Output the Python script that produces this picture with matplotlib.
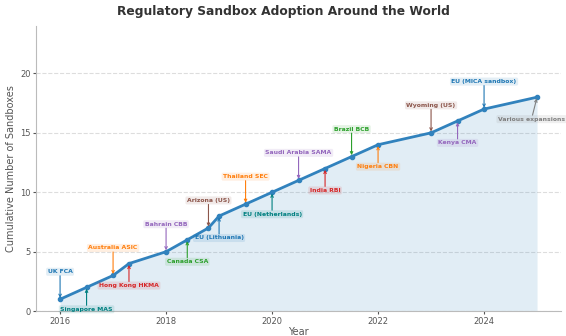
import matplotlib
matplotlib.use("Agg")
import matplotlib.pyplot as plt

# data
years = [2016.0, 2016.5, 2017.0, 2017.3, 2018.0, 2018.4, 2018.8, 2019.0, 2019.5,
         2020.0, 2020.5, 2021.0, 2021.5, 2022.0, 2023.0, 2023.5, 2024.0, 2025.0]
counts = [1, 2, 3, 4, 5, 6, 7, 8, 9, 10, 11, 12, 13, 14, 15, 16, 17, 18]
labels = ['UK FCA', 'Singapore MAS', 'Australia ASIC', 'Hong Kong HKMA', 'Bahrain CBB',
          'Canada CSA', 'Arizona (US)', 'EU (Lithuania)', 'Thailand SEC', 'EU (Netherlands)',
          'Saudi Arabia SAMA', 'India RBI', 'Brazil BCB', 'Nigeria CBN', 'Wyoming (US)',
          'Kenya CMA', 'EU (MICA sandbox)', 'Various expansions']
label_colors = ['tab:blue', 'teal', 'tab:orange', 'tab:red', 'tab:purple',
                'tab:green', 'tab:brown', 'tab:blue', 'tab:orange', 'teal',
                'tab:purple', 'tab:red', 'tab:green', 'tab:orange', 'tab:brown',
                'tab:purple', 'tab:blue', 'tab:gray']

line_color = '#3182bd'

fig = plt.figure(figsize=(5.66, 3.36), dpi=100)
ax = fig.add_axes([0.064, 0.074, 0.927, 0.849])

ax.fill_between(years, counts, color=line_color, alpha=0.14, linewidth=0)
ax.plot(years, counts, color=line_color, linewidth=2, marker='o', markersize=3)

for i, (x, y, lab, c) in enumerate(zip(years, counts, labels, label_colors)):
    if i % 2 == 0:
        off = (0, 18)
        va = 'bottom'
    else:
        off = (0, -14)
        va = 'top'
    if i == len(labels) - 1:
        off = (-4, off[1])
    ax.annotate(lab, xy=(x, y), xytext=off, textcoords='offset points',
                ha='center', va=va, fontsize=4.4, fontweight='bold', color=c,
                bbox=dict(boxstyle='round,pad=0.25', fc=c, ec='none', alpha=0.12),
                arrowprops=dict(arrowstyle='->', color=c, lw=0.8, shrinkA=0, shrinkB=1),
                annotation_clip=False)

ax.set_xlim(2015.55, 2025.45)
ax.set_ylim(0, 24)
ax.set_xticks([2016, 2018, 2020, 2022, 2024])
ax.set_yticks([0, 5, 10, 15, 20])
ax.tick_params(labelsize=6, colors='#555555', length=2, pad=2)
ax.grid(axis='y', linestyle='--', color='#dddddd', linewidth=0.8)
ax.set_axisbelow(True)
for s in ['top', 'right']:
    ax.spines[s].set_visible(False)
for s in ['left', 'bottom']:
    ax.spines[s].set_color('#bbbbbb')

ax.set_xlabel('Year', fontsize=7, color='#555555', labelpad=1)
ax.set_ylabel('Cumulative Number of Sandboxes', fontsize=7, color='#555555', labelpad=3)
fig.text(0.5, 0.967, 'Regulatory Sandbox Adoption Around the World', ha='center', va='center',
         fontsize=8.8, fontweight='bold', color='#333333')

plt.savefig('out.png', dpi=100)
